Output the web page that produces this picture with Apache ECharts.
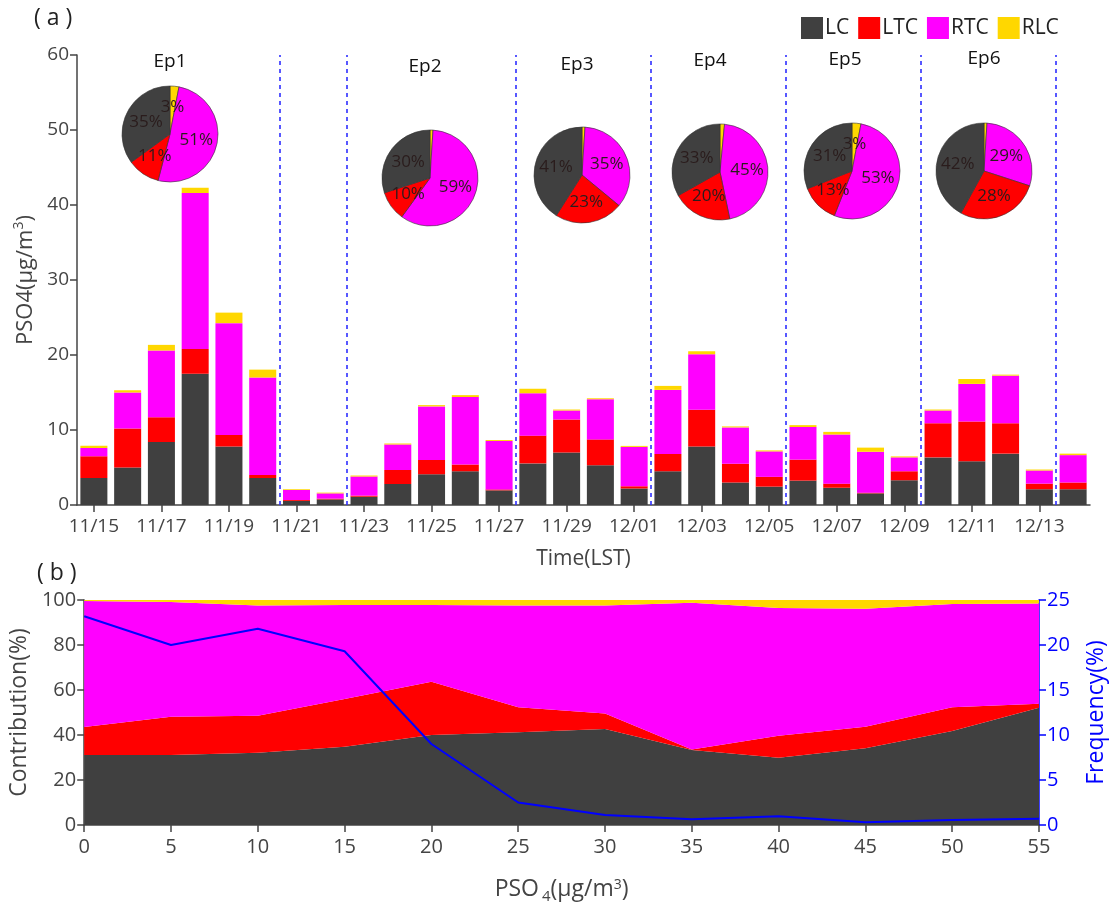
<!DOCTYPE html>
<html>
<head>
<meta charset="utf-8">
<script src="https://cdn.jsdelivr.net/npm/echarts@6/dist/echarts.min.js"></script>
<style>
  html, body { margin: 0; padding: 0; background: #fff; }
  #chart { width: 1116px; height: 908px; }
</style>
</head>
<body>
<div id="chart"></div>
<script>
// ---- (a) daily PSO4 by source region ----
const days = ['11/15','11/16','11/17','11/18','11/19','11/20','11/21','11/22','11/23','11/24',
              '11/25','11/26','11/27','11/28','11/29','11/30','12/01','12/02','12/03','12/04',
              '12/05','12/06','12/07','12/08','12/09','12/10','12/11','12/12','12/13','12/14'];
const lcDaily  = [3.6, 5.0, 8.4, 17.5, 7.8, 3.6, 0.55, 0.75, 1.1, 2.8, 4.1, 4.5, 1.95, 5.55, 7.0, 5.3, 2.2, 4.5, 7.8, 3.0,
                  2.45, 3.25, 2.3, 1.55, 3.3, 6.35, 5.85, 6.85, 2.1, 2.1];
const ltcDaily = [2.9, 5.2, 3.3, 3.3, 1.55, 0.4, 0.12, 0.1, 0.15, 1.87, 1.9, 0.9, 0.13, 3.7, 4.4, 3.45, 0.3, 2.3, 4.9, 2.5,
                  1.3, 2.8, 0.55, 0.1, 1.2, 4.55, 5.3, 4.05, 0.75, 0.9];
const rtcDaily = [1.1, 4.8, 8.9, 20.8, 14.9, 13.0, 1.33, 0.7, 2.55, 3.4, 7.15, 9.0, 6.45, 5.65, 1.2, 5.35, 5.25, 8.55, 7.4, 4.85,
                  3.4, 4.35, 6.55, 5.45, 1.85, 1.7, 5.0, 6.35, 1.75, 3.65];
const rlcDaily = [0.3, 0.3, 0.75, 0.7, 1.4, 1.05, 0.1, 0.1, 0.13, 0.13, 0.17, 0.25, 0.13, 0.6, 0.13, 0.13, 0.13, 0.53, 0.4, 0.13,
                  0.13, 0.25, 0.35, 0.55, 0.13, 0.13, 0.65, 0.13, 0.13, 0.2];

// first day of each new period (a dashed divider sits on its left edge)
const periodStarts = ['11/21', '11/23', '11/28', '12/02', '12/06', '12/10', '12/14'];

// episode-mean shares (%)
const episodes = ['Ep1', 'Ep2', 'Ep3', 'Ep4', 'Ep5', 'Ep6'];
const lcShare  = [35, 30, 41, 33, 31, 42];
const ltcShare = [11, 10, 23, 20, 13, 28];
const rtcShare = [51, 59, 35, 45, 53, 29];
const rlcShare = [3, 1, 1, 1.5, 3, 1];

// ---- (b) shares by PSO4 bin ----
const bins     = ['0', '5', '10', '15', '20', '25', '30', '35', '40', '45', '50', '55'];
const lcBin    = [31.1, 31.1, 32.1, 34.8, 40.0, 41.2, 42.7, 33.3, 29.9, 34.1, 41.8, 52.1];
const ltcBin   = [12.5, 17.0, 16.5, 21.2, 23.7, 11.1, 6.9, 0.3, 9.8, 9.6, 10.5, 1.8];
const rtcBin   = [56.0, 51.0, 49.0, 41.8, 34.1, 45.3, 48.0, 65.2, 56.7, 52.4, 45.9, 44.6];
const rlcBin   = [0.4, 0.9, 2.4, 2.2, 2.2, 2.4, 2.4, 1.2, 3.6, 3.9, 1.8, 1.5];
const freqBin  = [23.2, 20.0, 21.8, 19.3, 9.0, 2.5, 1.1, 0.63, 0.96, 0.3, 0.56, 0.7];

const COLORS = { LC: '#404040', LTC: '#ff0000', RTC: '#ff00ff', RLC: '#ffd700' };
const FONT = 'Open Sans';
const AXIS = '#444444';
const BLUE = '#0000ff';

// pie placement (pixels)
const pieCenters = [[170, 134], [430, 178], [582, 175], [720, 172], [852, 171], [984, 171]];
const pieTitlePos = [[170, 62], [425, 67], [577, 65], [710, 61], [845, 60], [984, 59]];

const chart = echarts.init(document.getElementById('chart'), null, { renderer: 'canvas' });

const axisLineStyle = { lineStyle: { color: AXIS, width: 1.5 } };
const tickStyle = { show: true, inside: false, length: 7, lineStyle: { color: AXIS, width: 1.5 } };
const labelTop = { fontFamily: FONT, fontSize: 19, color: AXIS };
const labelBottom = { fontFamily: FONT, fontSize: 20, color: AXIS };
const supRich = {
  sup: { fontFamily: FONT, fontSize: 14, color: AXIS, verticalAlign: 'bottom', padding: [0, 0, 12, 0] },
  sub: { fontFamily: FONT, fontSize: 15, color: AXIS, verticalAlign: 'top', padding: [14, 0, 0, 3] }
};

const barNames = ['LC', 'LTC', 'RTC', 'RLC'];
const dailyData = [lcDaily, ltcDaily, rtcDaily, rlcDaily];
const binData = [lcBin, ltcBin, rtcBin, rlcBin];

const series = [];

barNames.forEach((n, i) => {
  series.push({
    name: n, type: 'bar', stack: 'pso4',
    xAxisIndex: 0, yAxisIndex: 0,
    barCategoryGap: '20%',
    itemStyle: { color: COLORS[n] },
    data: dailyData[i]
  });
});

// dashed period dividers
series.push({
  type: 'scatter', xAxisIndex: 1, yAxisIndex: 0, data: [], silent: true,
  markLine: {
    silent: true, symbol: ['none', 'none'], label: { show: false },
    lineStyle: { color: '#2f2fff', type: [4, 4], width: 1.6 },
    data: periodStarts.map(d => ({ xAxis: days.indexOf(d) }))
  }
});

// episode pies (clockwise from 12 o'clock: RLC, RTC, LTC, LC)
episodes.forEach((ep, k) => {
  const vals = { LC: lcShare[k], LTC: ltcShare[k], RTC: rtcShare[k], RLC: rlcShare[k] };
  series.push({
    type: 'pie', name: ep, center: pieCenters[k], radius: 48,
    startAngle: 90, clockwise: true, silent: true,
    avoidLabelOverlap: false,
    labelLine: { show: false },
    labelLayout: { hideOverlap: false },
    label: {
      show: true, position: 'inside', fontFamily: FONT, fontSize: 17, color: '#2a1c1c',
      formatter: p => (p.value >= 2 ? p.value + '%' : '')
    },
    itemStyle: { borderColor: '#333', borderWidth: 0.6 },
    data: ['RLC', 'RTC', 'LTC', 'LC'].map(n => ({ name: n, value: vals[n], itemStyle: { color: COLORS[n] } }))
  });
});

// stacked contribution areas
barNames.forEach((n, i) => {
  series.push({
    name: n, type: 'line', stack: 'share',
    xAxisIndex: 2, yAxisIndex: 1,
    symbol: 'none', lineStyle: { width: 0 },
    areaStyle: { color: COLORS[n], opacity: 1 },
    itemStyle: { color: COLORS[n] },
    data: binData[i]
  });
});

series.push({
  name: 'Frequency', type: 'line', xAxisIndex: 2, yAxisIndex: 2,
  symbol: 'none', lineStyle: { color: BLUE, width: 2 },
  data: freqBin
});

const graphics = [
  { type: 'text', x: 34, y: 18, style: { text: '( a )', font: '23px "Open Sans"', fill: '#222', textVerticalAlign: 'middle' } },
  { type: 'text', x: 37, y: 573, style: { text: '( b )', font: '23px "Open Sans"', fill: '#222', textVerticalAlign: 'middle' } }
];
episodes.forEach((ep, k) => {
  graphics.push({
    type: 'text', x: pieTitlePos[k][0], y: pieTitlePos[k][1],
    style: { text: ep, font: '19px "Open Sans"', fill: '#111', textAlign: 'center', textVerticalAlign: 'middle' }
  });
});

chart.setOption({
  animation: false,
  backgroundColor: '#ffffff',
  textStyle: { fontFamily: FONT },
  legend: {
    data: barNames, top: 12, left: 796, icon: 'rect',
    itemWidth: 22, itemHeight: 22, itemGap: 9,
    selectedMode: false,
    textStyle: { fontFamily: FONT, fontSize: 21, color: '#222', padding: [0, 0, 0, -3] }
  },
  grid: [
    { left: 77, right: 26, top: 55, bottom: 403 },
    { left: 83, right: 76, top: 600, bottom: 83 }
  ],
  xAxis: [
    {
      type: 'category', gridIndex: 0, data: days, boundaryGap: true,
      axisLine: axisLineStyle,
      axisTick: Object.assign({}, tickStyle, { alignWithLabel: true, interval: 1 }),
      axisLabel: Object.assign({}, labelTop, { interval: 1, margin: 12 }),
      name: 'Time(LST)', nameLocation: 'middle', nameGap: 44,
      nameTextStyle: { fontFamily: FONT, fontSize: 21, color: AXIS }
    },
    { type: 'value', gridIndex: 0, min: 0, max: days.length, show: false },
    {
      type: 'category', gridIndex: 1, data: bins, boundaryGap: false,
      axisLine: axisLineStyle, axisTick: tickStyle, splitLine: { show: false },
      axisLabel: Object.assign({}, labelBottom, { margin: 12 }),
      name: 'PSO{sub|4}(μg/m{sup|3})', nameLocation: 'middle', nameGap: 50,
      nameTextStyle: { fontFamily: FONT, fontSize: 23, color: AXIS, rich: supRich }
    }
  ],
  yAxis: [
    {
      type: 'value', gridIndex: 0, min: 0, max: 60, interval: 10,
      axisLine: Object.assign({ show: true }, axisLineStyle), axisTick: tickStyle,
      splitLine: { show: false },
      axisLabel: Object.assign({}, labelTop, { margin: 8 }),
      name: 'PSO4(μg/m{sup|3})', nameLocation: 'middle', nameGap: 36,
      nameTextStyle: { fontFamily: FONT, fontSize: 22, color: AXIS, rich: supRich }
    },
    {
      type: 'value', gridIndex: 1, min: 0, max: 100, interval: 20,
      axisLine: Object.assign({ show: true }, axisLineStyle), axisTick: tickStyle,
      splitLine: { show: false },
      axisLabel: Object.assign({}, labelBottom, { margin: 8 }),
      name: 'Contribution(%)', nameLocation: 'middle', nameGap: 52,
      nameTextStyle: { fontFamily: FONT, fontSize: 23, color: AXIS }
    },
    {
      type: 'value', gridIndex: 1, min: 0, max: 25, interval: 5, position: 'right',
      axisLine: { show: true, lineStyle: { color: BLUE, width: 1.5 } },
      axisTick: { show: true, length: 7, lineStyle: { color: BLUE, width: 1.5 } },
      splitLine: { show: false },
      axisLabel: { fontFamily: FONT, fontSize: 20, color: BLUE, margin: 8 },
      name: 'Frequency(%)', nameLocation: 'middle', nameGap: 46,
      nameTextStyle: { fontFamily: FONT, fontSize: 23, color: BLUE }
    }
  ],
  graphic: graphics,
  series: series
});
</script>
</body>
</html>
